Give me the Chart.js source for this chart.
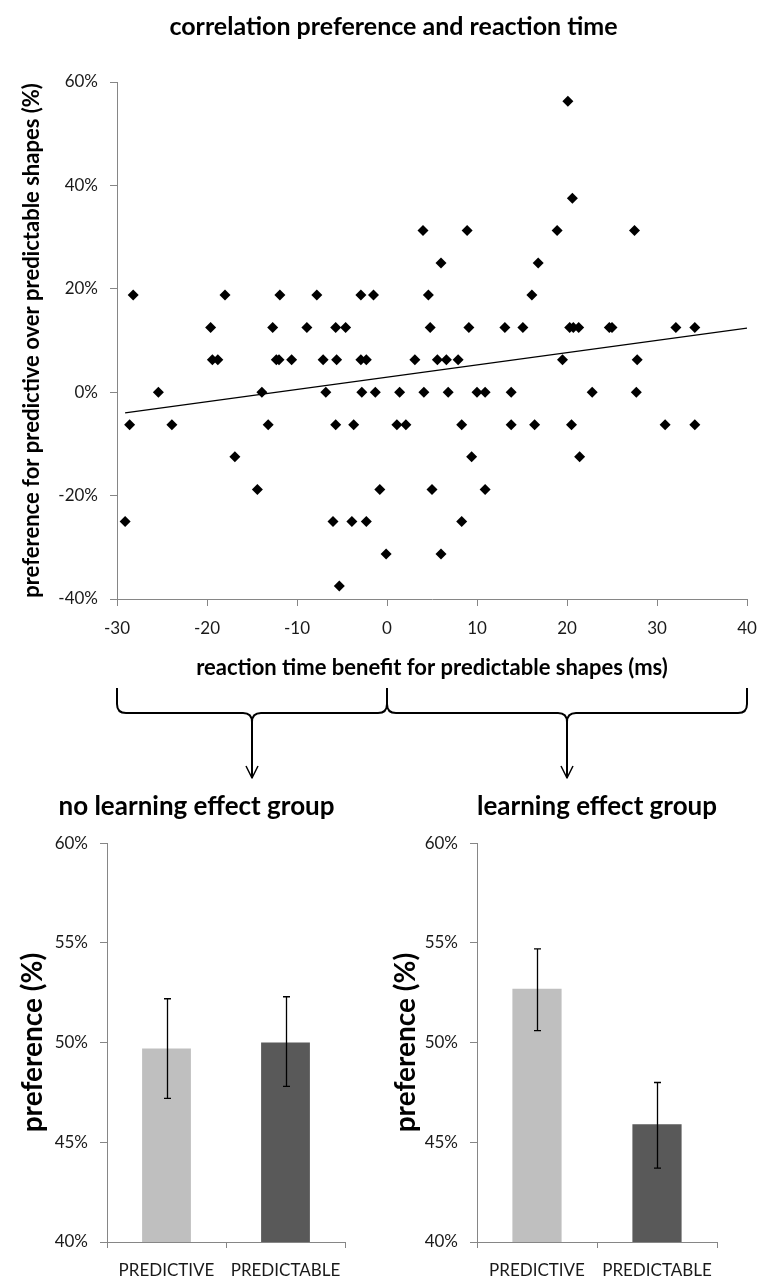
<!DOCTYPE html>
<html>
<head>
<meta charset="utf-8">
<script src="https://cdn.jsdelivr.net/npm/chart.js@4.4.1/dist/chart.umd.min.js"></script>
<style>
	html, body { margin: 0; padding: 0; background: #fff; }
	#page { position: relative; width: 759px; height: 1280px; overflow: hidden; }
	canvas { position: absolute; }
	#scatter { left: 0; top: 0; }
	#noLearning { left: 0; top: 780px; }
	#learning { left: 379px; top: 780px; }
</style>
</head>
<body>
<div id="page">
	<canvas id="scatter" width="759" height="780"></canvas>
	<canvas id="noLearning" width="379" height="500"></canvas>
	<canvas id="learning" width="380" height="500"></canvas>
</div>
<script>
// scatter: reaction time benefit (ms) vs preference for predictive shapes (%)
const rtBenefit = [
	20.1,
	20.6,
	4.0, 8.9, 18.9, 27.5,
	6.0, 16.8,
	-28.2, -18.0, -11.9, -7.8, -2.9, -1.5, 4.6, 16.1,
	-19.6, -12.7, -8.9, -5.7, -4.6, 4.8, 9.1, 13.1, 15.1, 20.3, 20.7, 21.3, 24.7, 25.0, 32.1, 34.2,
	-19.4, -18.8, -12.3, -12.0, -10.6, -7.1, -5.6, -2.9, -2.3, 3.1, 5.6, 6.6, 7.9, 19.5, 27.8,
	-25.4, -13.9, -6.8, -2.8, -1.3, 1.4, 4.1, 6.8, 10.0, 10.9, 13.8, 22.8, 27.7,
	-28.6, -23.9, -13.2, -5.7, -3.7, 1.1, 2.1, 8.3, 13.8, 16.4, 20.5, 30.9, 34.2,
	-16.9, 9.4, 21.4,
	-14.4, -0.8, 5.0, 10.9,
	-29.1, -6.0, -3.9, -2.3, 8.3,
	-0.1, 6.0,
	-5.3
];
const preference = [
	56.3,
	37.5,
	31.3, 31.3, 31.3, 31.3,
	25.0, 25.0,
	18.8, 18.8, 18.8, 18.8, 18.8, 18.8, 18.8, 18.8,
	12.5, 12.5, 12.5, 12.5, 12.5, 12.5, 12.5, 12.5, 12.5, 12.5, 12.5, 12.5, 12.5, 12.5, 12.5, 12.5,
	6.3, 6.3, 6.3, 6.3, 6.3, 6.3, 6.3, 6.3, 6.3, 6.3, 6.3, 6.3, 6.3, 6.3, 6.3,
	0, 0, 0, 0, 0, 0, 0, 0, 0, 0, 0, 0, 0,
	-6.3, -6.3, -6.3, -6.3, -6.3, -6.3, -6.3, -6.3, -6.3, -6.3, -6.3, -6.3, -6.3,
	-12.5, -12.5, -12.5,
	-18.8, -18.8, -18.8, -18.8,
	-25.0, -25.0, -25.0, -25.0, -25.0,
	-31.3, -31.3,
	-37.5
];
// trend line end points
const trendX = [-29.1, 40];
const trendY = [-4.0, 12.4];
// split of the reaction time range into the two groups
const groupBounds = [-30, 0, 40];

// bar charts
const conditions = ['PREDICTIVE', 'PREDICTABLE'];
const noLearningMean = [49.7, 50.0];
const noLearningLow = [47.2, 47.8];
const noLearningHigh = [52.2, 52.3];
const learningMean = [52.7, 45.9];
const learningLow = [50.6, 43.7];
const learningHigh = [54.7, 48.0];

const FONT = 'Lato, "Noto Sans", sans-serif';
const AXIS = '#868686';
const TEXT = '#1a1a1a';
Chart.defaults.font.family = FONT;
Chart.defaults.color = TEXT;

const points = rtBenefit.map((x, i) => ({ x: x, y: preference[i] }));
const trend = trendX.map((x, i) => ({ x: x, y: trendY[i] }));

const braces = {
	id: 'braces',
	afterDraw: (chart) => {
		const { ctx, chartArea, scales } = chart;
		const top = chartArea.bottom + 89;
		const line = chartArea.bottom + 114;
		const tip = chartArea.bottom + 179;
		const r = 9;
		const xs = groupBounds.map((v) => scales.x.getPixelForValue(v));
		ctx.save();
		ctx.strokeStyle = '#000';
		ctx.lineJoin = 'round';
		for (let i = 0; i < xs.length - 1; i++) {
			const a = xs[i];
			const b = xs[i + 1];
			const m = (a + b) / 2;
			ctx.lineWidth = 2;
			ctx.beginPath();
			ctx.moveTo(a, top);
			ctx.lineTo(a, line - r);
			ctx.quadraticCurveTo(a, line, a + r, line);
			ctx.lineTo(m - r, line);
			ctx.quadraticCurveTo(m, line, m, line + r);
			ctx.quadraticCurveTo(m, line, m + r, line);
			ctx.lineTo(b - r, line);
			ctx.quadraticCurveTo(b, line, b, line - r);
			ctx.lineTo(b, top);
			ctx.moveTo(m, line + r);
			ctx.lineTo(m, tip);
			ctx.stroke();
			ctx.lineWidth = 1.5;
			ctx.beginPath();
			ctx.moveTo(m - 6, tip - 12);
			ctx.lineTo(m, tip);
			ctx.lineTo(m + 6, tip - 12);
			ctx.stroke();
		}
		ctx.restore();
	},
};

new Chart(document.getElementById('scatter'), {
	type: 'scatter',
	data: {
		datasets: [
			{
				data: points,
				pointStyle: 'rectRot',
				pointRadius: 5.5,
				backgroundColor: '#000',
				borderColor: '#000',
				borderWidth: 0,
			},
			{
				data: trend,
				showLine: true,
				pointRadius: 0,
				borderColor: '#000',
				borderWidth: 1.3,
			},
		],
	},
	options: {
		responsive: false,
		animation: false,
		// left padding only moves the centre of the chart title; the y axis box is narrowed to match
		layout: { padding: { left: 40, right: 12 }, autoPadding: false },
		plugins: {
			legend: { display: false },
			tooltip: { enabled: false },
			title: {
				display: true,
				text: 'correlation preference and reaction time',
				color: '#000',
				font: { size: 25, weight: 'bold' },
				padding: { top: 12, bottom: 40 },
			},
		},
		scales: {
			x: {
				type: 'linear',
				min: -30,
				max: 40,
				ticks: { stepSize: 10, padding: 12, font: { size: 17 } },
				grid: { drawOnChartArea: false, tickLength: 7, color: AXIS },
				border: { color: AXIS },
				title: {
					display: true,
					text: 'reaction time benefit for predictable shapes (ms)',
					color: '#000',
					font: { size: 22, weight: 'bold' },
					padding: { top: 0, bottom: 99 },
				},
				afterFit: (s) => {
					s.height = 181;
					s.paddingLeft = 0;
					s.paddingRight = 0;
				},
			},
			y: {
				min: -40,
				max: 60,
				ticks: { stepSize: 20, padding: 12, font: { size: 17 }, callback: (v) => v + '%' },
				grid: { drawOnChartArea: false, tickLength: 7, color: AXIS },
				border: { color: AXIS },
				title: {
					display: true,
					text: 'preference for predictive over predictable shapes (%)',
					color: '#000',
					font: { size: 22, weight: 'bold' },
					padding: { top: -21, bottom: 0 },
				},
				afterFit: (s) => { s.width = 77; },
			},
		},
	},
	plugins: [braces],
});

const makeErrorBars = (low, high) => ({
	id: 'errorBars',
	afterDatasetsDraw: (chart) => {
		const { ctx, scales } = chart;
		ctx.save();
		ctx.strokeStyle = '#000';
		ctx.lineWidth = 1.3;
		low.forEach((lo, i) => {
			const px = Math.round(scales.x.getPixelForValue(i)) + 0.5;
			const y1 = scales.y.getPixelForValue(lo);
			const y2 = scales.y.getPixelForValue(high[i]);
			ctx.beginPath();
			ctx.moveTo(px, y1);
			ctx.lineTo(px, y2);
			ctx.moveTo(px - 3.5, y1);
			ctx.lineTo(px + 3.5, y1);
			ctx.moveTo(px - 3.5, y2);
			ctx.lineTo(px + 3.5, y2);
			ctx.stroke();
		});
		ctx.restore();
	},
});

// box = { padLeft, axisWidth, padRight, titlePad, fullTitle }
// padLeft shifts the chart title (when fullTitle), axisWidth keeps the plot edge in place
const drawBarChart = (id, title, mean, low, high, box) => {
	return new Chart(document.getElementById(id), {
		type: 'bar',
		data: {
			labels: conditions,
			datasets: [
				{
					data: mean,
					backgroundColor: ['#bfbfbf', '#595959'],
					barPercentage: 0.41,
					categoryPercentage: 1,
				},
			],
		},
		options: {
			responsive: false,
			animation: false,
			layout: { padding: { left: box.padLeft, right: box.padRight } },
			plugins: {
				legend: { display: false },
				tooltip: { enabled: false },
				title: {
					display: true,
					text: title,
					fullSize: box.fullTitle,
					color: '#000',
					font: { size: 26, weight: 'bold' },
					padding: { top: 11, bottom: 21 },
				},
			},
			scales: {
				x: {
					grid: { drawOnChartArea: false, tickLength: 6, color: AXIS, offset: true },
					border: { color: AXIS },
					ticks: { padding: 12, font: { size: 17 } },
					afterFit: (s) => { s.height = 38; },
				},
				y: {
					min: 40,
					max: 60,
					ticks: { stepSize: 5, padding: 12, font: { size: 17 }, callback: (v) => v + '%' },
					grid: { drawOnChartArea: false, tickLength: 7, color: AXIS },
					border: { color: AXIS },
					title: {
						display: true,
						text: 'preference (%)',
						color: '#000',
						font: { size: 28, weight: 'bold' },
						padding: { top: box.titlePad, bottom: 0 },
					},
					afterFit: (s) => { s.width = box.axisWidth; },
				},
			},
		},
		plugins: [makeErrorBars(low, high)],
	});
};

drawBarChart('noLearning', 'no learning effect group', noLearningMean, noLearningLow, noLearningHigh,
	{ padLeft: 48, axisWidth: 59, padRight: 34, titlePad: -32, fullTitle: true });
drawBarChart('learning', 'learning effect group', learningMean, learningLow, learningHigh,
	{ padLeft: 0, axisWidth: 98, padRight: 42, titlePad: 10, fullTitle: false });
</script>
</body>
</html>
